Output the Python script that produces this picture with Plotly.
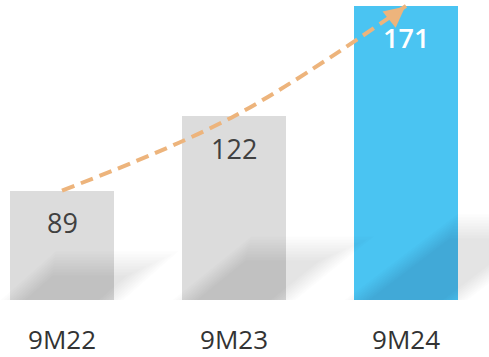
import plotly.graph_objects as go

# Nine-month totals by period
categories = ["9M22", "9M23", "9M24"]
values = [89, 122, 171]
bar_colors = ["#DCDCDC", "#DCDCDC", "#4AC4F2"]
label_colors = ["#404040", "#404040", "#FFFFFF"]
label_weights = [400, 400, 600]

W, H = 489, 357
MB = 55
plot_h = H - MB
x_range = [-0.3605, 2.4826]
y_range = [40.4, 173.6]
bar_w = 0.61

ux = (x_range[1] - x_range[0]) / W       # data units per pixel, x
uy = (y_range[1] - y_range[0]) / plot_h  # data units per pixel, y
xs = list(range(len(categories)))

fig = go.Figure()

fig.add_trace(go.Bar(
    x=xs, y=values, width=bar_w,
    marker=dict(color=bar_colors, line=dict(width=0)),
    hoverinfo="skip",
))

# dashed growth curve through the bar tops
fig.add_trace(go.Scatter(
    x=xs, y=values, mode="lines",
    line=dict(color="#EDB47C", width=4, dash="13px,7px", shape="spline", smoothing=1),
    hoverinfo="skip", cliponaxis=False,
))

# arrowhead at the end of the curve
fig.add_annotation(
    x=xs[-1], y=values[-1], xref="x", yref="y", text="",
    showarrow=True, ax=-16, ay=13, arrowhead=2, arrowsize=1.3,
    arrowwidth=3.2, arrowcolor="#EDB47C", standoff=1,
)

# value labels near the top of each bar
for xi, v, c, wt in zip(xs, values, label_colors, label_weights):
    fig.add_annotation(
        x=xi, y=v, xref="x", yref="y", text=str(v), showarrow=False,
        yanchor="middle", yshift=-32,
        font=dict(family="Open Sans", size=27, color=c, weight=wt),
    )

# soft ground shadows cast to the upper right of each bar
shapes = []
insets = [-9, -6, -3, 0, 3, 6, 9, 12, 15]
for xi, v in zip(xs, values):
    h_px = (v - y_range[0]) / uy
    dy = 0.2 * h_px + 18
    dx = 0.3 * h_px + 12
    L_px = (xi - bar_w / 2 - x_range[0]) / ux
    R_px = (xi + bar_w / 2 - x_range[0]) / ux
    for e in insets:
        t = (dy - e) / dy
        pts = [
            (L_px + e, 0),
            (R_px - e, 0),
            (R_px + dx * t - e, dy - e),
            (L_px + dx * t + e, dy - e),
        ]
        path = "M " + " L ".join(
            f"{x_range[0] + px * ux:.5f},{y_range[0] + py * uy:.5f}" for px, py in pts
        ) + " Z"
        shapes.append(dict(
            type="path", path=path, xref="x", yref="y", layer="above",
            fillcolor="rgba(0,0,0,0.012)", line=dict(width=0),
        ))

fig.update_layout(
    width=W, height=H,
    margin=dict(l=0, r=0, t=0, b=MB, pad=0),
    paper_bgcolor="white", plot_bgcolor="white",
    showlegend=False, bargap=0,
    shapes=shapes,
    xaxis=dict(
        range=x_range, tickmode="array", tickvals=xs, ticktext=categories,
        showgrid=False, zeroline=False, showline=False, ticks="",
        tickfont=dict(family="Open Sans", size=26, color="#333333"),
        ticklabelstandoff=22, fixedrange=True,
    ),
    yaxis=dict(
        range=y_range, visible=False, showgrid=False, zeroline=False,
        fixedrange=True,
    ),
)

fig.write_html("out.html")
